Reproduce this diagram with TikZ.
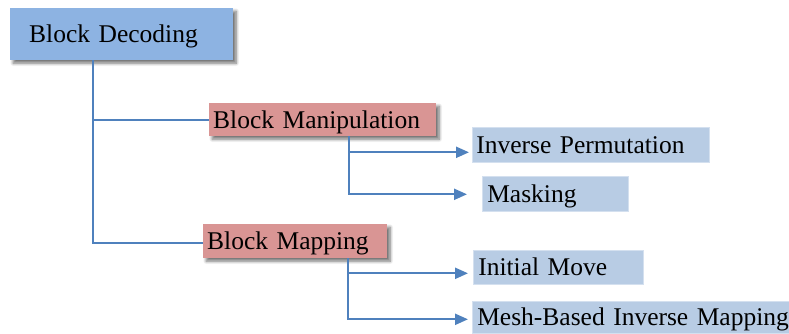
\documentclass[tikz,border=0pt]{standalone}
\usepackage{fontspec}
\setmainfont{Liberation Serif}
\usetikzlibrary{arrows.meta,shadows.blur}
\definecolor{topblue}{HTML}{8DB3E2}
\definecolor{midred}{HTML}{D99594}
\definecolor{leafblue}{HTML}{B8CCE4}
\definecolor{linkblue}{HTML}{4F81BD}
\tikzset{
  box/.style={rectangle, anchor=north west, inner ysep=0pt, align=left,
    text height=17pt, text depth=0pt,
    font=\fontsize{25.5pt}{28pt}\selectfont},
  softshadow/.style={blur shadow={shadow xshift=3pt, shadow yshift=-3pt, shadow blur radius=3pt, shadow blur steps=8, shadow opacity=55}},
  topbox/.style={box, fill=topblue, softshadow},
  midbox/.style={box, fill=midred, softshadow},
  leafbox/.style={box, fill=leafblue, draw=leafblue!60!white, line width=0.6pt},
  tree/.style={draw=linkblue, line width=1.9pt},
  arr/.style={draw=linkblue, line width=2.2pt, -{Triangle[length=13pt,width=11pt]}},
}
\begin{document}
\begin{tikzpicture}[x=1pt,y=1pt]
\useasboundingbox (0,0) rectangle (789,-333);
\node[topbox, minimum width=223pt, minimum height=52pt, inner xsep=19pt, text width=185pt] (dec) at (10,-8) {Block Decoding};
\node[midbox, minimum width=227pt, minimum height=33pt, inner xsep=4pt, text width=219pt] (man) at (209,-103) {Block Manipulation};
\node[midbox, minimum width=184pt, minimum height=34pt, inner xsep=4pt, text width=176pt] (map) at (203,-224) {Block Mapping};
\node[leafbox, minimum width=237pt, minimum height=35pt, inner xsep=4pt, text width=229pt] (ip) at (472,-127) {Inverse Permutation};
\node[leafbox, minimum width=146pt, minimum height=35pt, inner xsep=5pt, text width=136pt] (mask) at (482,-176) {Masking};
\node[leafbox, minimum width=170pt, minimum height=34pt, inner xsep=5pt, text width=160pt] (im) at (473,-250) {Initial Move};
\node[leafbox, minimum width=330pt, minimum height=32pt, inner xsep=5pt, text width=320pt] (mesh) at (472,-301) {Mesh-Based Inverse Mapping};
% tree from Block Decoding
\draw[tree] ([xshift=83pt]dec.south west) coordinate (trunk) |- ([yshift=-2pt]map.west);
\draw[tree] (trunk |- man.west) -- (man.west);
% branches
\draw[arr] ([xshift=140pt]man.south west) |- ([xshift=-3pt,yshift=-7.5pt]ip.west);
\draw[arr] ([xshift=140pt]man.south west) |- ([xshift=-15pt,yshift=-0.5pt]mask.west);
\draw[arr] ([xshift=145pt]map.south west) |- ([xshift=-5pt,yshift=-6pt]im.west);
\draw[arr] ([xshift=145pt]map.south west) |- ([xshift=-4pt,yshift=-2pt]mesh.west);
\end{tikzpicture}
\end{document}
